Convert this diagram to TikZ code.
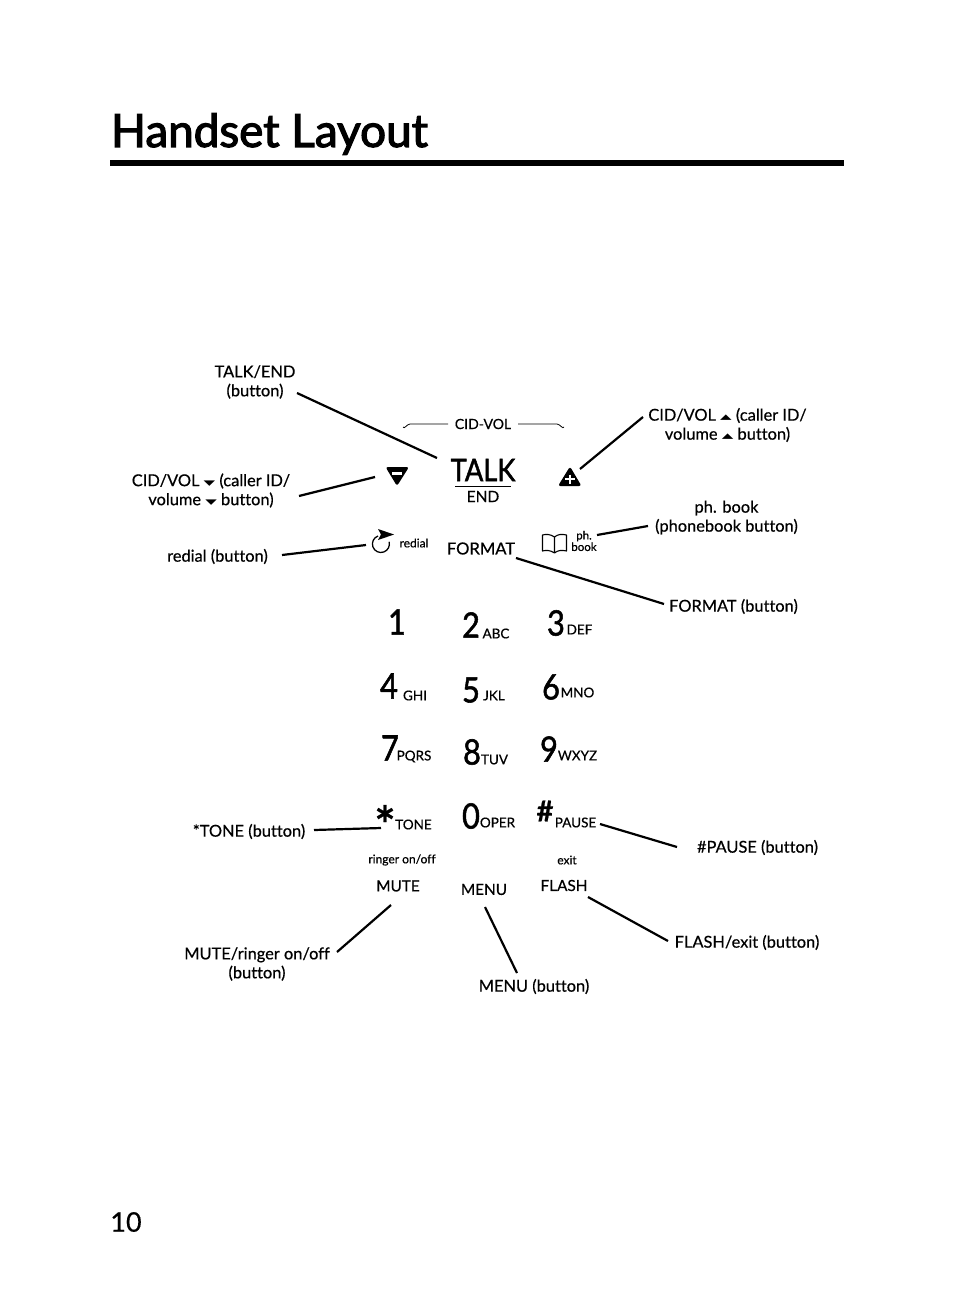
\documentclass[tikz,border=0pt]{standalone}
\usepackage{graphicx}
\usepackage{fontspec}
\setmainfont[Ligatures=NoCommon,RawFeature={embolden=0.5}]{Lato}
\newfontfamily\keyfont[RawFeature={embolden=1.6}]{Lato}
\newfontfamily\titlefont[RawFeature={embolden=2.6}]{Lato}
\newfontfamily\symfont{DejaVu Sans}
\newcommand{\dntri}{\scalebox{2.1}[1]{\symfont\fontsize{11}{11}\selectfont ▾}}
\newcommand{\uptri}{\scalebox{2.1}[1]{\symfont\fontsize{11}{11}\selectfont ▴}}
\newcommand{\kd}[1]{\scalebox{0.88}[1]{#1}}
\tikzset{
  lbl/.style={inner sep=0pt,align=center,font=\fontsize{16.4}{19}\selectfont},
  digit/.style={inner sep=0pt,font=\keyfont\fontsize{35}{35}\selectfont},
  letters/.style={inner sep=0pt,font=\fontsize{13.5}{14}\selectfont},
  keyname/.style={inner sep=0pt,font=\fontsize{15.3}{17}\selectfont},
  tiny/.style={inner sep=0pt,align=center,font=\fontsize{12}{12}\selectfont},
  leader/.style={line width=2.2pt}
}
\begin{document}
\begin{tikzpicture}[x=1pt,y=-1pt]
\useasboundingbox (0,0) rectangle (954,1301);
\node[inner sep=0pt,font=\titlefont\fontsize{45.8}{46}\selectfont] (title) at (269.5,134) {Handset Layout};
\fill (110,160) rectangle (844,165.5);
\node[inner sep=0pt,font=\fontsize{27}{27}\selectfont] (pageno) at (126,1222) {10};

\node[lbl] (talklbl) at (255,382) {TALK/END\\(button)};
\node[lbl] (downlbl) at (211,490.5) {CID/VOL\ \dntri\ (caller ID/\\volume\ \dntri\ button)};
\node[lbl] (rediallbl) at (217.5,556.5) {redial (button)};
\node[lbl] (uplbl) at (727.5,425) {CID/VOL\ \uptri\ (caller ID/\\volume\ \uptri\ button)};
\node[lbl] (booklbl) at (726.5,517.5) {ph. book\\(phonebook button)};
\node[lbl] (formatlbl) at (733.5,606.5) {FORMAT (button)};
\node[lbl] (tonelbl) at (249,831.5) {*TONE (button)};
\node[lbl] (pauselbl) at (757.5,847.5) {\#PAUSE (button)};
\node[lbl] (mutelbl) at (257,964) {MUTE/ringer on/off\\(button)};
\node[lbl] (menulbl) at (534,986.5) {MENU (button)};
\node[lbl] (flashlbl) at (747,942.5) {FLASH/exit (button)};

\node[inner sep=0pt,font=\fontsize{14}{14}\selectfont] (cidvol) at (483,424) {CID-VOL};
\draw[line width=0.8pt] (403,427) to[out=-70,in=180] (410,424) -- (448,424);
\draw[line width=0.8pt] (518,424) -- (557,424) to[out=0,in=-110] (564,427);
\node[inner sep=0pt,font=\keyfont\fontsize{31}{31}\selectfont] (talk) at (483,470) {\kd{TALK}};
\draw[line width=1.6pt] (455,486.5) -- (511,486.5);
\node[keyname,font=\fontsize{15.5}{17}\selectfont] (endkey) at (483,496.5) {END};
\node[keyname,font=\fontsize{16.6}{17}\selectfont] (format) at (481,548.5) {FORMAT};
\node[tiny] (redial) at (414,543) {redial};
\node[tiny,font=\fontsize{11.5}{11.5}\selectfont] (phbook) at (584,541) {ph.\\book};

\fill[rounded corners=2.5pt] (385.5,467) -- (409,467) -- (397,486) -- cycle;
\fill[white] (392,471.5) rectangle (402,474.5);
\node[inner sep=0pt,minimum width=22pt,minimum height=18pt] (downbtn) at (397,476) {};
\fill[rounded corners=2.5pt] (558,486) -- (581.5,486) -- (570,466.5) -- cycle;
\draw[white,line width=1.6pt] (565,479) -- (575,479) (570,474.5) -- (570,483.5);
\node[inner sep=0pt,minimum width=22pt,minimum height=18pt] (upbtn) at (570,477) {};
\draw[line width=1.3pt] (378,536) arc (-110:-375:8.5);
\fill (378,529) -- (394,534.5) -- (378,540) -- (381,534.5) -- cycle;
\node[inner sep=0pt,minimum width=24pt,minimum height=24pt] (redialbtn) at (381,542) {};
\draw[line width=1.1pt,line join=round] (554.5,537) .. controls (550,534) and (546,534) .. (542.5,535) -- (542.5,551) .. controls (546,550) and (550,550) .. (554.5,553) .. controls (558,550) and (562,550) .. (566.5,551) -- (566.5,535) .. controls (562,534) and (558,534) .. (554.5,537) -- (554.5,553);
\node[inner sep=0pt,minimum width=25pt,minimum height=19pt] (bookbtn) at (554.5,543.5) {};

\node[digit] (k1) at (397,622) {\kd{1}};
\node[digit] (k2) at (471,625) {\kd{2}};
\node[digit] (k3) at (556,623) {\kd{3}};
\node[digit] (k4) at (389,686) {\kd{4}};
\node[digit] (k5) at (471,690) {\kd{5}};
\node[digit] (k6) at (551,687) {\kd{6}};
\node[digit] (k7) at (390,748) {\kd{7}};
\node[digit] (k8) at (472,752) {\kd{8}};
\node[digit] (k9) at (549,749) {\kd{9}};
\node[digit,font=\fontsize{50}{50}\selectfont\bfseries] (kstar) at (385,824) {*};
\node[digit] (k0) at (471,816) {\kd{0}};
\node[digit,font=\fontsize{29}{29}\selectfont\bfseries] (khash) at (545,811) {\#};
\node[letters] (abc) at (496,633.5) {ABC};
\node[letters] (def) at (579.5,629.5) {DEF};
\node[letters] (ghi) at (415,695.5) {GHI};
\node[letters] (jkl) at (494,695.5) {JKL};
\node[letters] (mno) at (577.5,692.5) {MNO};
\node[letters] (pqrs) at (414,756.5) {PQRS};
\node[letters] (tuv) at (494.5,759.5) {TUV};
\node[letters] (wxyz) at (577.5,755.5) {WXYZ};
\node[letters] (tone) at (413.5,824.5) {TONE};
\node[letters] (oper) at (497.5,822.5) {OPER};
\node[letters] (pause) at (575.5,822.5) {PAUSE};
\node[tiny] (ringer) at (402,860) {ringer on/off};
\node[tiny] (exit) at (567,860) {exit};
\node[keyname] (mute) at (398,886) {MUTE};
\node[keyname] (menu) at (484,889.5) {MENU};
\node[keyname] (flash) at (564,885.5) {FLASH};

\draw[leader] ([shift={(42,11)}]talklbl.center) -- ([shift={(-46,-12)}]talk.center);
\draw[leader] ([shift={(88,5.5)}]downlbl.center) -- ([shift={(-22,1)}]downbtn.center);
\draw[leader] ([shift={(64.5,-1.5)}]rediallbl.center) -- ([shift={(-15,3)}]redialbtn.center);
\draw[leader] ([shift={(35,9.5)}]format.center) -- ([shift={(-69.5,-2.5)}]formatlbl.center);
\draw[leader] ([shift={(-84.5,-8)}]uplbl.center) -- ([shift={(10,-8)}]upbtn.center);
\draw[leader] ([shift={(-78.5,8.5)}]booklbl.center) -- ([shift={(13,-6)}]phbook.center);
\draw[leader] ([shift={(65,-1.5)}]tonelbl.center) -- ([shift={(-4,4)}]kstar.center);
\draw[leader] ([shift={(24.5,1.5)}]pause.center) -- ([shift={(-80.5,-0.5)}]pauselbl.center);
\draw[leader] ([shift={(24,11.5)}]flash.center) -- ([shift={(-79,-1.5)}]flashlbl.center);
\draw[leader] ([shift={(-7,19)}]mute.center) -- ([shift={(80,-12)}]mutelbl.center);
\draw[leader] ([shift={(1,17.5)}]menu.center) -- ([shift={(-17,-13.5)}]menulbl.center);
\end{tikzpicture}
\end{document}
